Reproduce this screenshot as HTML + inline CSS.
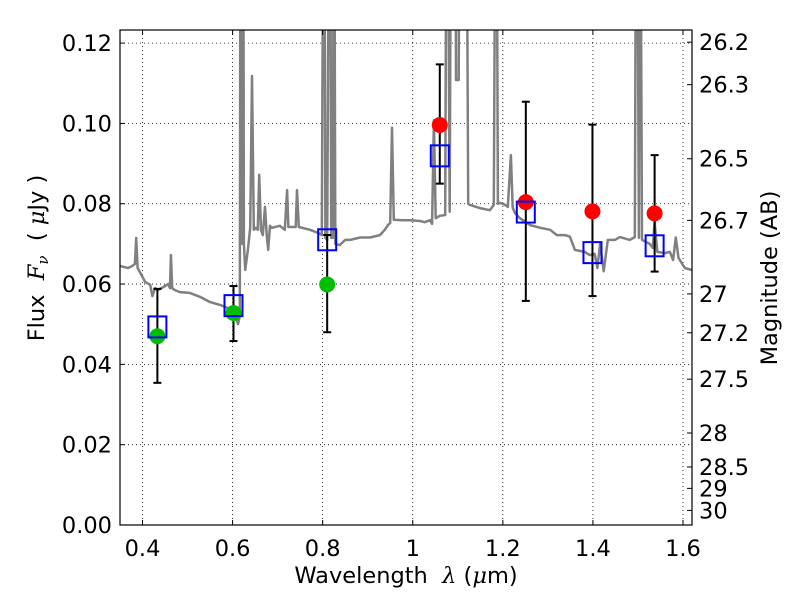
<!DOCTYPE html>
<html><head><meta charset="utf-8"><style>
body{margin:0;background:#fff;}
svg text{font-family:"DejaVu Sans","Liberation Sans",sans-serif;fill:#000;white-space:pre;}
</style></head><body>
<svg id="chart" width="800" height="600" xmlns="http://www.w3.org/2000/svg">
<defs><clipPath id="pc"><rect x="120" y="30" width="572" height="495"/></clipPath></defs>
<rect width="800" height="600" fill="#fff"/>
<g id="grid"></g>
<g id="spec" clip-path="url(#pc)"></g>
<g id="marks"></g>
<rect x="120" y="30" width="572" height="495" fill="none" stroke="#000" stroke-width="1.2"/>
<g id="axes"></g>
<text x="406" y="583" font-size="22.5" text-anchor="middle">Wavelength  <tspan font-style="italic" font-family="DejaVu Serif, serif">λ</tspan> (<tspan font-style="italic" font-family="DejaVu Serif, serif">μ</tspan>m)</text>
<text transform="translate(44,258) rotate(-90)" font-size="22.5" text-anchor="middle">Flux  <tspan font-style="italic" font-family="DejaVu Serif, serif">F</tspan><tspan font-style="italic" font-size="15" dy="4" font-family="DejaVu Serif, serif">ν</tspan><tspan dy="-4">  ( <tspan font-style="italic" font-family="DejaVu Serif, serif">μ</tspan>Jy )</tspan></text>
<text transform="translate(777,278) rotate(-90)" font-size="22.5" text-anchor="middle">Magnitude (AB)</text>
</svg>
<script>
const xTicks=[0.4,0.6,0.8,1.0,1.2,1.4,1.6];
const xTickLabels=["0.4","0.6","0.8","1","1.2","1.4","1.6"];
const yTicks=[0,0.02,0.04,0.06,0.08,0.10,0.12];
const yTickLabels=["0.00","0.02","0.04","0.06","0.08","0.10","0.12"];
const magTicks=[26.2,26.3,26.5,26.7,27,27.2,27.5,28,28.5,29,30];
const magTickLabels=["26.2","26.3","26.5","26.7","27","27.2","27.5","28","28.5","29","30"];
const specWl=[.350,.368,.377,.383,.386,.389,.394,.406,.417,.422,.428,.434,.450,.457,.461,.463,.466,.472,.483,.505,.528,.550,.572,.594,.605,.612,.616,.618,.621,.623,.625,.628,.634,.639,.643,.647,.652,.656,.659,.663,.667,.672,.676,.679,.683,.687,.705,.716,.721,.724,.740,.743,.747,.772,.790,.798,.803,.806,.810,.816,.819,.821,.823,.825,.828,.838,.850,.861,.883,.905,.927,.938,.945,.950,.954,.958,.976,.994,1.016,1.027,1.038,1.043,1.047,1.051,1.060,1.072,1.076,1.082,1.086,1.094,1.096,1.102,1.105,1.118,1.123,1.127,1.149,1.171,1.180,1.185,1.189,1.194,1.205,1.211,1.218,1.222,1.227,1.238,1.260,1.283,1.305,1.320,1.338,1.349,1.360,1.382,1.393,1.404,1.410,1.416,1.424,1.433,1.449,1.460,1.482,1.493,1.497,1.502,1.504,1.509,1.526,1.533,1.537,1.543,1.560,1.571,1.578,1.584,1.590,1.604,1.620];
const specFlux=[.0645,.0640,.0645,.0650,.0715,.0640,.0630,.0605,.0598,.0570,.0590,.0585,.0595,.0600,.0590,.0672,.0590,.0585,.0580,.0578,.0568,.0555,.0548,.0538,.0530,.0500,.0520,.20,.0700,.20,.0700,.0635,.0685,.0740,.1118,.0735,.0740,.0735,.0872,.0735,.0722,.0792,.0720,.0685,.0745,.0740,.0745,.0735,.0834,.0742,.0742,.0834,.0742,.0735,.0727,.0722,.20,.0715,.0710,.20,.0715,.0921,.0715,.20,.0700,.0697,.0710,.0710,.0716,.0716,.0722,.0735,.0747,.0752,.0989,.0760,.0759,.0759,.0757,.0754,.0759,.0750,.1008,.0764,.0770,.0772,.20,.0780,.20,.20,.1108,.1108,.20,.20,.0800,.0797,.0789,.0784,.0797,.20,.0800,.0802,.0797,.0792,.0921,.0790,.0777,.0764,.0747,.0740,.0735,.0722,.0722,.0718,.0685,.0680,.0672,.0675,.0640,.0700,.0632,.0710,.0710,.0717,.0710,.0717,.20,.0715,.20,.0710,.0700,.0690,.0755,.0680,.0677,.0680,.0660,.0716,.0665,.0640,.0635];
const bandWl=[0.433,0.602,0.81,1.06,1.251,1.399,1.537];
const modelFlux=[0.0492,0.0545,0.0709,0.0918,0.0778,0.0677,0.0694];
const obsFlux=[0.047,0.0528,0.0599,0.0996,0.0804,0.0781,0.0776];
const errHi=[0.0588,0.0595,0.0722,0.1147,0.1054,0.0997,0.0921];
const errLo=[0.0354,0.0458,0.048,0.085,0.0558,0.057,0.0631];
const obsColor=["#00bf00","#00bf00","#00bf00","#ff0000","#ff0000","#ff0000","#ff0000"];

const NS="http://www.w3.org/2000/svg";
const X0=120,X1=692,Y0=525,Y1=30,XMIN=0.35,XMAX=1.62,YMIN=0,YMAX=0.12326;
function xs(v){return X0+(v-XMIN)/(XMAX-XMIN)*(X1-X0);}
function ys(v){return Y0-(v-YMIN)/(YMAX-YMIN)*(Y0-Y1);}
function magToFlux(m){return Math.pow(10,(23.9-m)/2.5);}
function mk(tag,attrs,parent){const e=document.createElementNS(NS,tag);for(const k in attrs)e.setAttribute(k,attrs[k]);parent.appendChild(e);return e;}
const grid=document.getElementById('grid'),axes=document.getElementById('axes'),spec=document.getElementById('spec'),marks=document.getElementById('marks');
xTicks.forEach((t,i)=>{const x=xs(t);
 const g=mk('line',{x1:x,x2:x,y1:Y1,y2:Y0,stroke:'#000','stroke-width':0.8,'stroke-dasharray':'1,3'},grid);
 
 
 mk('line',{x1:x,x2:x,y1:Y0,y2:Y0-5,stroke:'#000'},axes);
 mk('line',{x1:x,x2:x,y1:Y1,y2:Y1+5,stroke:'#000'},axes);
 const tx=mk('text',{x:x,y:556,'font-size':22.5,'text-anchor':'middle'},axes);tx.textContent=xTickLabels[i];
 
 
});
yTicks.forEach((t,i)=>{const y=ys(t);
 const g=mk('line',{x1:X0,x2:X1,y1:y,y2:y,stroke:'#000','stroke-width':0.8,'stroke-dasharray':'1,3'},grid);
 
 
 mk('line',{x1:X0,x2:X0+5,y1:y,y2:y,stroke:'#000'},axes);
 const tx=mk('text',{x:112,y:y+8,'font-size':22.5,'text-anchor':'end'},axes);tx.textContent=yTickLabels[i];
 
 
});
magTicks.forEach((m,i)=>{const y=ys(magToFlux(m));
 mk('line',{x1:X1,x2:X1-5,y1:y,y2:y,stroke:'#000'},axes);
 const tx=mk('text',{x:699,y:y+8,'font-size':22.5,'text-anchor':'start'},axes);tx.textContent=magTickLabels[i];
 
 
});
const pts=specWl.map((w,i)=>xs(w).toFixed(1)+','+ys(specFlux[i]).toFixed(1)).join(' ');
const pl=mk('polyline',{points:pts,fill:'none',stroke:'#808080','stroke-width':2.5,'stroke-linejoin':'round'},spec);


bandWl.forEach((w,i)=>{const x=xs(w);
 const e=mk('g',{},marks);
 
 
 mk('line',{x1:x,x2:x,y1:ys(errHi[i]),y2:ys(errLo[i]),stroke:'#000','stroke-width':2},e);
 mk('line',{x1:x-4,x2:x+4,y1:ys(errHi[i]),y2:ys(errHi[i]),stroke:'#000','stroke-width':2},e);
 mk('line',{x1:x-4,x2:x+4,y1:ys(errLo[i]),y2:ys(errLo[i]),stroke:'#000','stroke-width':2},e);
 const c=mk('circle',{cx:x,cy:ys(obsFlux[i]),r:8,fill:obsColor[i]},marks);
 
 
 const s=mk('rect',{x:x-9,y:ys(modelFlux[i])-11,width:18,height:21,fill:'none',stroke:'#0000ff','stroke-width':2},marks);
 
 
});
</script>
</body></html>
